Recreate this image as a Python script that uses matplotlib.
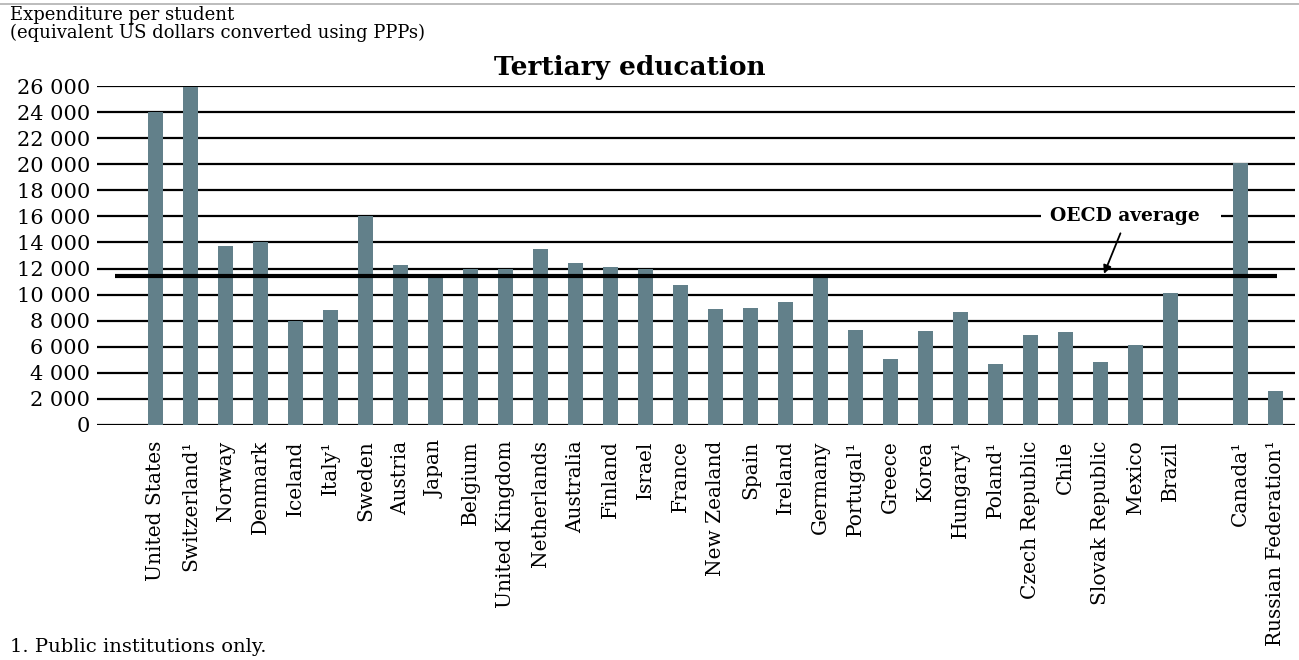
import numpy as np
import matplotlib
matplotlib.use("Agg")
import matplotlib.pyplot as plt

countries = ["United States", "Switzerland¹", "Norway", "Denmark", "Iceland", "Italy¹",
             "Sweden", "Austria", "Japan", "Belgium", "United Kingdom", "Netherlands",
             "Australia", "Finland", "Israel", "France", "New Zealand", "Spain", "Ireland",
             "Germany", "Portugal¹", "Greece", "Korea", "Hungary¹", "Poland¹",
             "Czech Republic", "Chile", "Slovak Republic", "Mexico", "Brazil",
             "Canada¹", "Russian Federation¹"]
values = [24000, 25900, 13700, 14000, 8000, 8800, 16000, 12300, 11500, 12000, 12000,
          13500, 12400, 12100, 12000, 10700, 8900, 9000, 9400, 11600, 7300, 5100, 7200,
          8700, 4700, 6900, 7100, 4800, 6100, 10100, 20100, 2600]
oecd_average = 11400
yticks = list(range(0, 26001, 2000))
ytick_labels = [f"{v:,}".replace(",", " ") for v in yticks]

plt.rcParams['font.family'] = ['DejaVu Serif']

W, H = 1299, 660
fig = plt.figure(figsize=(W / 100, H / 100), dpi=100)
left, right, top, bottom = 97, 1295, 86, 425
ax = fig.add_axes([left / W, 1 - bottom / H, (right - left) / W, (bottom - top) / H])

n = len(countries)
pos = np.arange(n) + (np.arange(n) >= 30) * 1.0

for v in yticks:
    if v == 16000:
        ax.hlines(v, -1.67, 25.3, color='black', lw=1.6, zorder=1)
        ax.hlines(v, 30.45, 32.6, color='black', lw=1.6, zorder=1)
    else:
        ax.axhline(v, color='black', lw=1.6, zorder=1)

ax.bar(pos, values, width=0.43, color='#62808a', zorder=2)
ax.hlines(oecd_average, -1.15, 32.05, color='black', lw=3.0, zorder=3)

ax.text(27.7, 16000, "OECD average", ha='center', va='center', fontsize=13.5,
        fontweight='bold', zorder=4)
ax.annotate("", xy=(27.07, oecd_average), xytext=(27.6, 14900),
            arrowprops=dict(arrowstyle='-|>', color='black', lw=1.3, mutation_scale=12),
            zorder=4)

ax.set_xlim((left - 155.5) / 35, (right - 155.5) / 35)
ax.set_ylim(0, 26000)
ax.set_yticks(yticks)
ax.set_yticklabels(ytick_labels, fontsize=15)
ax.set_xticks(pos)
ax.set_xticklabels(countries, rotation=90, fontsize=14.5, va='top', ha='center')
ax.tick_params(axis='both', length=0)
ax.tick_params(axis='y', pad=5)
ax.tick_params(axis='x', pad=11)
for s in ax.spines.values():
    s.set_visible(False)

fig.text(10 / W, 1 - 6 / H, "Expenditure per student\n(equivalent US dollars converted using PPPs)",
         ha='left', va='top', fontsize=13, linespacing=1.0)
fig.text(630 / W, 1 - 68 / H, "Tertiary education", ha='center', va='center',
         fontsize=19, fontweight='bold')
fig.text(10 / W, 1 - 638 / H, "1. Public institutions only.", ha='left', va='top', fontsize=14)

fig.add_artist(plt.Line2D([0, 1], [1 - 4 / H, 1 - 4 / H], transform=fig.transFigure,
                          color='#b0b0b0', lw=1.2))

fig.savefig("out.png", dpi=100)
